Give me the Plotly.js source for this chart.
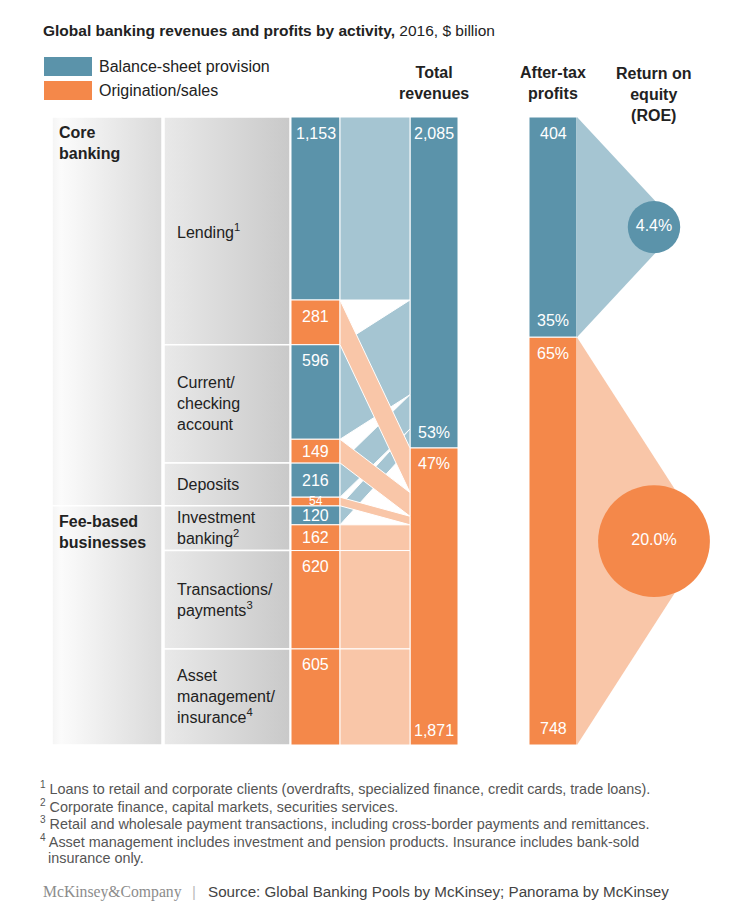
<!DOCTYPE html>
<html><head><meta charset="utf-8">
<script src="https://cdn.plot.ly/plotly-3.0.1.min.js"></script>
<style>body{margin:0;background:#fff}#chart{width:750px;height:914px}</style>
</head><body><div id="chart"></div>
<script>
// ---------------- DATA ----------------
const activities = ['Lending<sup>1</sup>', 'Current/<br>checking<br>account', 'Deposits',
  'Investment<br>banking<sup>2</sup>', 'Transactions/<br>payments<sup>3</sup>', 'Asset<br>management/<br>insurance<sup>4</sup>'];
const balanceSheet = [1153, 596, 216, 120, 0, 0];
const origination = [281, 149, 54, 162, 620, 605];
const groups = ['Core<br>banking', 'Fee-based<br>businesses'];
const groupCounts = [3, 3];
const totalRevenues = [2085, 1871];
const revenueShares = ['53%', '47%'];
const profits = [404, 748];
const profitShares = ['35%', '65%'];
const roe = [4.4, 20.0];
const roeLabels = ['4.4%', '20.0%'];
const seriesNames = ['Balance-sheet provision', 'Origination/sales'];

// ---------------- STYLE / LAYOUT CONSTANTS ----------------
const W = 750, H = 914, TOP = 117, BOT = 745;
const F = 'Liberation Sans, Arial, sans-serif';
const BLUE = '#5b93aa', ORANGE = '#f4884a', LBLUE = '#a5c5d2', LORANGE = '#f9c6a8';
const colGroup = [52, 162], colAct = [164, 290];
const bar1 = [291, 340], bar2 = [410, 458], bar3 = [529, 577];
const roeX = 654, circleScale = 25;

const revSum = totalRevenues.reduce((a, b) => a + b, 0);
const profSum = profits.reduce((a, b) => a + b, 0);
const k1 = (BOT - TOP) / revSum, k2 = (BOT - TOP) / profSum;
const py = p => (BOT - p) / (BOT - TOP);
const ctr = c => (c[0] + c[1]) / 2, wid = c => c[1] - c[0];
const fmt = v => v.toLocaleString('en-US');

const traces = [];
const annotations = [];
const shapes = [];

// ---------------- segments ----------------
let cum = 0;
const segs = [], actStart = [], actEnd = [];
activities.forEach((a, i) => {
  actStart.push(cum);
  if (balanceSheet[i] > 0) { segs.push({ i, kind: 'b', s: cum, e: cum + balanceSheet[i], v: balanceSheet[i] }); cum += balanceSheet[i]; }
  if (origination[i] > 0) { segs.push({ i, kind: 'o', s: cum, e: cum + origination[i], v: origination[i] }); cum += origination[i]; }
  actEnd.push(cum);
});
let bCum = 0, oCum = totalRevenues[0];
segs.forEach(sg => {
  if (sg.kind === 'b') { sg.ts = bCum; sg.te = bCum + sg.v; bCum += sg.v; }
  else { sg.ts = oCum; sg.te = oCum + sg.v; oCum += sg.v; }
});

// ---------------- gray label columns ----------------
let gi = 0;
groups.forEach((g, j) => {
  const s = actStart[gi], e = actEnd[gi + groupCounts[j] - 1];
  traces.push({ type: 'scatter', mode: 'lines', x: [colGroup[0], colGroup[1], colGroup[1], colGroup[0], colGroup[0]],
    y: [s, s, e, e, s], fill: 'toself', line: { color: '#fff', width: 1.5 },
    fillgradient: { type: 'horizontal', colorscale: [[0, '#f4f4f4'], [0.08, '#fbfbfb'], [1, '#dadada']] },
    hoverinfo: 'skip', showlegend: false });
  annotations.push({ x: colGroup[0] + 5, y: s + 5 / k1, xref: 'x', yref: 'y', text: '<b>' + g + '</b>', showarrow: false,
    xanchor: 'left', yanchor: 'top', align: 'left', font: { family: F, size: 16, color: '#222' } });
  gi += groupCounts[j];
});
activities.forEach((a, i) => {
  const s = actStart[i], e = actEnd[i];
  traces.push({ type: 'scatter', mode: 'lines', x: [colAct[0], colAct[1], colAct[1], colAct[0], colAct[0]],
    y: [s, s, e, e, s], fill: 'toself', line: { color: '#fff', width: 1.5 },
    fillgradient: { type: 'horizontal', colorscale: [[0, '#e9e9e9'], [1, '#c9c9c9']] },
    hoverinfo: 'skip', showlegend: false });
  annotations.push({ x: colAct[0] + 11, y: (s + e) / 2, xref: 'x', yref: 'y', text: a, showarrow: false,
    xanchor: 'left', yanchor: 'middle', align: 'left', font: { family: F, size: 16, color: '#222' } });
});

// ---------------- flows ----------------
['b', 'o'].forEach(kind => {
  segs.filter(sg => sg.kind === kind).forEach(sg => {
    traces.push({ type: 'scatter', mode: 'lines', x: [bar1[1], bar2[0], bar2[0], bar1[1], bar1[1]],
      y: [sg.s, sg.ts, sg.te, sg.e, sg.s], fill: 'toself', fillcolor: kind === 'b' ? LBLUE : LORANGE,
      line: { color: '#fff', width: 1 }, hoverinfo: 'skip', showlegend: false });
  });
});

// ---------------- activity bars ----------------
['b', 'o'].forEach((kind, n) => {
  const ss = segs.filter(sg => sg.kind === kind);
  traces.push({ type: 'bar', name: seriesNames[n], x: ss.map(() => ctr(bar1)), base: ss.map(sg => sg.s), y: ss.map(sg => sg.v),
    width: wid(bar1), marker: { color: kind === 'b' ? BLUE : ORANGE, line: { color: '#fff', width: 1 } },
    hoverinfo: 'skip', showlegend: false });
});
segs.forEach(sg => {
  const hpx = sg.v * k1;
  const yc = hpx >= 40 ? sg.s + 16 / k1 : (sg.s + sg.e) / 2;
  annotations.push({ x: ctr(bar1), y: yc, xref: 'x', yref: 'y', text: fmt(sg.v), showarrow: false,
    xanchor: 'center', yanchor: 'middle', font: { family: F, size: hpx < 12 ? 12 : 16, color: '#fff' } });
});

// ---------------- total revenue bar ----------------
let tc = 0;
totalRevenues.forEach((v, j) => {
  traces.push({ type: 'bar', x: [ctr(bar2)], base: [tc], y: [v], width: wid(bar2),
    marker: { color: j === 0 ? BLUE : ORANGE, line: { color: '#fff', width: 1 } }, hoverinfo: 'skip', showlegend: false });
  const topTxt = j === 0 ? fmt(v) : revenueShares[j];
  const botTxt = j === 0 ? revenueShares[j] : fmt(v);
  annotations.push({ x: ctr(bar2), y: tc + 16 / k1, xref: 'x', yref: 'y', text: topTxt, showarrow: false,
    font: { family: F, size: 16, color: '#fff' } });
  annotations.push({ x: ctr(bar2), y: tc + v - 15 / k1, xref: 'x', yref: 'y', text: botTxt, showarrow: false,
    font: { family: F, size: 16, color: '#fff' } });
  tc += v;
});

// ---------------- profits, triangles, ROE circles ----------------
let pc = 0;
const mids = [], sizes = [];
profits.forEach((v, j) => {
  const s = pc, e = pc + v, mid = (s + e) / 2;
  const r = circleScale * Math.sqrt(roe[j]) / 2;
  traces.push({ type: 'scatter', mode: 'lines', yaxis: 'y2', x: [bar3[1], roeX + r * 0.97, bar3[1], bar3[1]], y: [s, mid, e, s],
    fill: 'toself', fillcolor: j === 0 ? LBLUE : LORANGE, line: { width: 0, color: 'rgba(0,0,0,0)' }, hoverinfo: 'skip', showlegend: false });
  traces.push({ type: 'bar', yaxis: 'y2', x: [ctr(bar3)], base: [s], y: [v], width: wid(bar3),
    marker: { color: j === 0 ? BLUE : ORANGE, line: { color: '#fff', width: 1 } }, hoverinfo: 'skip', showlegend: false });
  const topTxt = j === 0 ? fmt(v) : profitShares[j];
  const botTxt = j === 0 ? profitShares[j] : fmt(v);
  annotations.push({ x: ctr(bar3), y: s + 16 / k2, xref: 'x', yref: 'y2', text: topTxt, showarrow: false,
    font: { family: F, size: 16, color: '#fff' } });
  annotations.push({ x: ctr(bar3), y: e - 17 / k2, xref: 'x', yref: 'y2', text: botTxt, showarrow: false,
    font: { family: F, size: 16, color: '#fff' } });
  mids.push(mid); sizes.push(circleScale * Math.sqrt(roe[j]));
  pc = e;
});
traces.push({ type: 'scatter', mode: 'markers+text', yaxis: 'y2', x: mids.map(() => roeX), y: mids,
  marker: { size: sizes, color: [BLUE, ORANGE], line: { width: 0 }, opacity: 1 },
  text: roeLabels, textposition: 'middle center', textfont: { family: F, size: 16, color: '#fff' },
  hoverinfo: 'skip', showlegend: false, cliponaxis: false });

// ---------------- headers / title / legend / notes ----------------
const pa = (x, yp, text, opts = {}) => Object.assign({ x, y: py(yp), xref: 'x', yref: 'paper', text, showarrow: false,
  xanchor: 'left', yanchor: 'middle', align: 'left', font: { family: F, size: 16, color: '#222' } }, opts);

annotations.push(pa(41, 30, '<b>Global banking revenues and profits by activity,</b> 2016, $ billion', { font: { family: F, size: 15.5, color: '#222' } }));
[BLUE, ORANGE].forEach((c, n) => {
  shapes.push({ type: 'rect', xref: 'x', yref: 'paper', x0: 44, x1: 92, y0: py(57 + n * 24), y1: py(76 + n * 24), fillcolor: c, line: { width: 0 } });
  annotations.push(pa(97, 67 + n * 24, seriesNames[n]));
});
annotations.push(pa(ctr(bar2), 83, '<b>Total<br>revenues</b>', { xanchor: 'center', align: 'center' }));
annotations.push(pa(ctr(bar3), 83, '<b>After-tax<br>profits</b>', { xanchor: 'center', align: 'center' }));
annotations.push(pa(roeX, 94, '<b>Return on<br>equity<br>(ROE)</b>', { xanchor: 'center', align: 'center' }));

const notes = [
  '<sup>1</sup> Loans to retail and corporate clients (overdrafts, specialized finance, credit cards, trade loans).',
  '<sup>2</sup> Corporate finance, capital markets, securities services.',
  '<sup>3</sup> Retail and wholesale payment transactions, including cross-border payments and remittances.',
  '<sup>4</sup> Asset management includes investment and pension products. Insurance includes bank-sold',
  'insurance only.'
];
const noteY = [788, 806, 823, 841, 858];
notes.forEach((t, n) => annotations.push(pa(n === 4 ? 46 : 38, noteY[n], t,
  { font: { family: F, size: 14.4, color: '#555' } })));
annotations.push(pa(41, 892, 'McKinsey&amp;Company', { font: { family: 'Liberation Serif, serif', size: 15.7, color: '#8c8c8c' } }));
annotations.push(pa(190, 892, '|', { font: { family: F, size: 15, color: '#bbb' } }));
annotations.push(pa(206, 892, 'Source: Global Banking Pools by McKinsey; Panorama by McKinsey', { font: { family: F, size: 15.2, color: '#444' } }));

const layout = {
  width: W, height: H, margin: { l: 0, r: 0, t: TOP, b: H - BOT, pad: 0 },
  paper_bgcolor: '#fff', plot_bgcolor: 'rgba(0,0,0,0)', showlegend: false, hovermode: false,
  barmode: 'overlay', bargap: 0,
  xaxis: { range: [0, W], visible: false, fixedrange: true },
  yaxis: { range: [revSum, 0], visible: false, fixedrange: true },
  yaxis2: { range: [profSum, 0], visible: false, overlaying: 'y', fixedrange: true },
  annotations, shapes
};
Plotly.newPlot('chart', traces, layout, { staticPlot: true });
</script></body></html>
